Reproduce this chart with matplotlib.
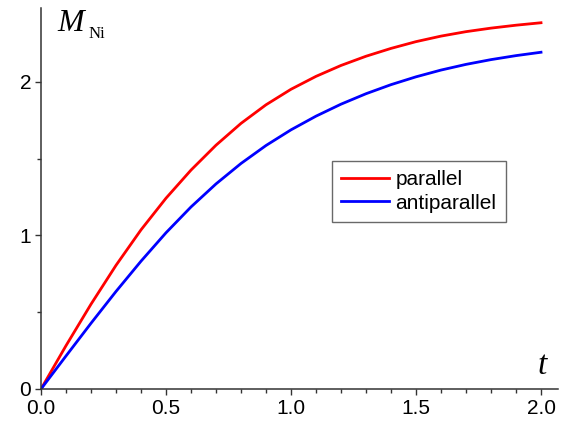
import matplotlib
matplotlib.use("Agg")
import matplotlib.pyplot as plt
from matplotlib.ticker import MultipleLocator

# data
t = [0.0, 0.1, 0.2, 0.3, 0.4, 0.5, 0.6, 0.7, 0.8, 0.9, 1.0,
     1.1, 1.2, 1.3, 1.4, 1.5, 1.6, 1.7, 1.8, 1.9, 2.0]
m_parallel = [0.0, 0.282, 0.552, 0.805, 1.036, 1.242, 1.425, 1.587, 1.729, 1.850, 1.951,
              2.035, 2.106, 2.166, 2.217, 2.261, 2.297, 2.326, 2.349, 2.368, 2.384]
m_antiparallel = [0.0, 0.215, 0.428, 0.635, 0.832, 1.017, 1.185, 1.335, 1.468, 1.585, 1.687,
                  1.776, 1.854, 1.922, 1.981, 2.032, 2.076, 2.113, 2.144, 2.170, 2.192]
series_labels = ["parallel", "antiparallel"]

plt.rcParams['font.family'] = ['Liberation Sans', 'DejaVu Sans']

W, H = 563, 422
fig = plt.figure(figsize=(W / 100, H / 100), dpi=100)
ax = fig.add_axes([41 / W, 33 / H, 517 / W, 381 / H])

ax.plot(t, m_parallel, color='#ff0000', lw=2.0, label=series_labels[0])
ax.plot(t, m_antiparallel, color='#0000ff', lw=2.0, label=series_labels[1])

ax.set_xlim(0, 2.068)
ax.set_ylim(0, 2.48)

for s in ['top', 'right']:
    ax.spines[s].set_visible(False)
for s in ['left', 'bottom']:
    ax.spines[s].set_color('#333333')
    ax.spines[s].set_linewidth(1.1)

ax.xaxis.set_major_locator(MultipleLocator(0.5))
ax.xaxis.set_minor_locator(MultipleLocator(0.1))
ax.yaxis.set_major_locator(MultipleLocator(1))
ax.yaxis.set_minor_locator(MultipleLocator(0.5))
ax.xaxis.set_major_formatter(plt.FuncFormatter(lambda v, p: f"{v:.1f}"))
ax.yaxis.set_major_formatter(plt.FuncFormatter(lambda v, p: f"{v:.0f}"))
ax.tick_params(which='major', direction='out', length=4, width=1.0,
               color='#333333', labelsize=15, pad=3)
ax.tick_params(which='minor', direction='out', length=3, width=1.0,
               color='#333333')

leg = ax.legend(loc='upper left', bbox_to_anchor=((332 - 41) / 517, (389 - 161) / 381),
                borderaxespad=0, fontsize=15, handlelength=2.3, handletextpad=0.3,
                labelspacing=0.2, borderpad=0.45, fancybox=False, frameon=True)
leg.get_frame().set_edgecolor('#444444')
leg.get_frame().set_linewidth(1.0)

# axis labels placed like the reference
fig.text(57 / W, 1 - 31 / H, 'M', family='Liberation Serif', style='italic',
         fontsize=23, ha='left', va='baseline')
fig.text(89 / W, 1 - 38 / H, 'Ni', family='Liberation Serif',
         fontsize=12, ha='left', va='baseline')
fig.text(547 / W, 1 - 374 / H, 't', family='Liberation Serif', style='italic',
         fontsize=24, ha='right', va='baseline')

fig.savefig('out.png', dpi=100)
